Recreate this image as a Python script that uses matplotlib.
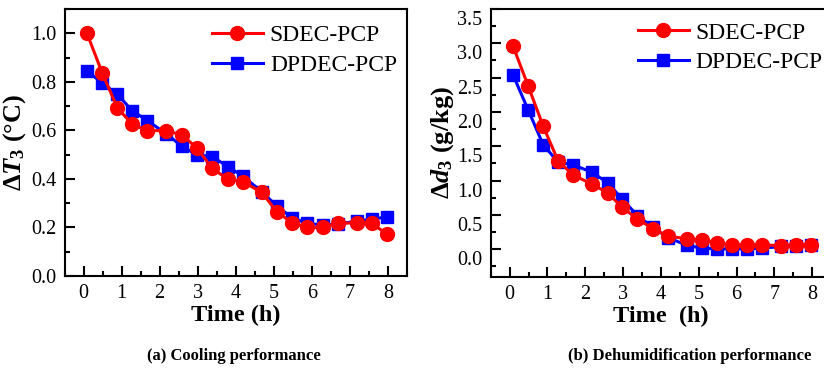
import matplotlib
matplotlib.use("Agg")
import matplotlib.pyplot as plt
import matplotlib.transforms as mtransforms
from matplotlib.ticker import MultipleLocator

plt.rcParams['font.family'] = ['Liberation Serif', 'DejaVu Serif']
plt.rcParams['mathtext.fontset'] = 'custom'
plt.rcParams['mathtext.rm'] = 'Liberation Serif:bold'
plt.rcParams['mathtext.it'] = 'Liberation Serif:italic:bold'
plt.rcParams['mathtext.bf'] = 'Liberation Serif:bold'

# ---- data ----
time_h = [0.09, 0.49, 0.89, 1.28, 1.68, 2.18, 2.59, 2.98, 3.38, 3.79,
          4.18, 4.68, 5.08, 5.48, 5.88, 6.28, 6.68, 7.18, 7.58, 7.98]

cool_sdec = [1.00, 0.837, 0.692, 0.626, 0.599, 0.599, 0.581, 0.527, 0.444, 0.399,
             0.389, 0.345, 0.265, 0.219, 0.200, 0.200, 0.217, 0.219, 0.217, 0.171]
cool_dpdec = [0.844, 0.796, 0.748, 0.681, 0.640, 0.585, 0.534, 0.499, 0.492, 0.451,
              0.412, 0.348, 0.288, 0.240, 0.217, 0.210, 0.214, 0.226, 0.234, 0.244]

dehum_sdec = [2.96, 2.38, 1.79, 1.29, 1.08, 0.95, 0.82, 0.61, 0.44, 0.30,
              0.19, 0.155, 0.136, 0.097, 0.063, 0.063, 0.063, 0.053, 0.063, 0.063]
dehum_dpdec = [2.54, 2.03, 1.52, 1.27, 1.23, 1.12, 0.97, 0.73, 0.49, 0.32,
               0.17, 0.06, 0.015, 0.005, 0.005, 0.005, 0.015, 0.04, 0.04, 0.06]

series_names = ['SDEC-PCP', 'DPDEC-PCP']
x_ticks = [0, 1, 2, 3, 4, 5, 6, 7, 8]
cool_yticks = [0.0, 0.2, 0.4, 0.6, 0.8, 1.0]
dehum_yticks = [0.0, 0.5, 1.0, 1.5, 2.0, 2.5, 3.0, 3.5]

W, H = 824, 372
fig = plt.figure(figsize=(W / 100, H / 100), dpi=100)

ax1 = fig.add_axes([64.5 / W, 1 - 276 / H, (407 - 64.5) / W, (276 - 9) / H])
ax2 = fig.add_axes([490.7 / W, 1 - 276.7 / H, 340.4 / W, (276.7 - 9) / H])

red = '#ff0000'
blue = '#0000ff'

def style(ax, ymin, ymax, yticks, yminor):
    ax.set_xlim(-0.5, 8.5)
    ax.set_ylim(ymin, ymax)
    ax.set_xticks(x_ticks)
    ax.xaxis.set_minor_locator(MultipleLocator(0.5))
    ax.set_yticks(yticks)
    ax.set_yticklabels([f'{v:.1f}' for v in yticks])
    ax.yaxis.set_minor_locator(MultipleLocator(yminor))
    ax.tick_params(which='both', direction='in', top=False, right=False,
                   labelsize=14.5, width=1.5)
    ax.tick_params(which='major', length=7, pad=6)
    ax.tick_params(which='minor', length=3.5)
    for s in ax.spines.values():
        s.set_linewidth(1.5)

def draw(ax, t, a, b):
    ax.plot(t, b, color=blue, lw=2.2, marker='s', ms=8.5, label=series_names[1], zorder=3)
    ax.plot(t, a, color=red, lw=2.2, marker='o', ms=10, label=series_names[0], zorder=4)
    h, l = ax.get_legend_handles_labels()
    return [h[1], h[0]], [l[1], l[0]]

leg_kw = dict(loc='center left', frameon=False, fontsize=17, borderpad=0,
              borderaxespad=0, handlelength=2.15, handletextpad=0.3, labelspacing=0.35)

h1, l1 = draw(ax1, time_h, cool_sdec, cool_dpdec)
style(ax1, 0.0, 1.1, cool_yticks, 0.1)
ax1.legend(h1, l1, bbox_to_anchor=(0.4307, 0.845), **leg_kw)
ax1.set_xlabel('Time (h)', fontsize=17.5, fontweight='bold', labelpad=1)
ax1.set_ylabel(r'$\Delta T_3$ (°C)', fontsize=19, fontweight='bold', labelpad=2)

h2, l2 = draw(ax2, time_h, dehum_sdec, dehum_dpdec)
style(ax2, -0.4, 3.5, dehum_yticks, 0.25)
ax2.legend(h2, l2, bbox_to_anchor=(0.4327, 0.855), **leg_kw)
ax2.set_xlabel('Time  (h)', fontsize=17.5, fontweight='bold', labelpad=1)
ax2.set_ylabel(r'$\Delta d_3$ (g/kg)', fontsize=19, fontweight='bold', labelpad=1)

fig.text(234 / W, 1 - 356 / H, '(a) Cooling performance', ha='center', va='center',
         fontsize=12, fontweight='bold')
fig.text(690 / W, 1 - 356 / H, '(b) Dehumidification performance', ha='center', va='center',
         fontsize=12, fontweight='bold')

fig.canvas.draw()
off = mtransforms.ScaledTranslation(0, -9 / 100, fig.dpi_scale_trans)
for tk in ax2.yaxis.get_major_ticks():
    tk.label1.set_transform(tk.label1.get_transform() + off)

fig.savefig('out.png', dpi=100)
